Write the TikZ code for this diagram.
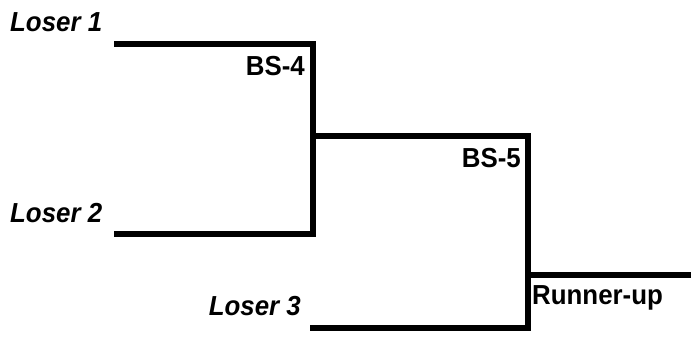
\documentclass[tikz,border=0pt]{standalone}
\usepackage{fontspec}
\newfontfamily\lab{Liberation Sans}[FakeStretch=0.94]
\begin{document}
\begin{tikzpicture}[x=1pt,y=1pt,
  wire/.style={line width=5.5pt,line join=miter,line cap=rect},
  lbl/.style={font=\lab\bfseries\fontsize{27.5}{30}\selectfont,inner sep=0pt},
  ilbl/.style={font=\lab\bfseries\itshape\fontsize{27.5}{30}\selectfont,inner sep=0pt}]
\useasboundingbox (0,0) rectangle (691,360);
% coordinates (y up = 360 - y_image)
\coordinate (l1) at (117,316);
\coordinate (l2) at (117,126);
\coordinate (j4) at (313,224);
\coordinate (j5top) at (528,224);
\coordinate (l3) at (313,32);
\coordinate (j5) at (528,85);
\coordinate (ru) at (691,85);
% labels
\node[ilbl,anchor=west] (t1) at (10,338) {Loser 1};
\node[ilbl,anchor=west] (t2) at (10,147) {Loser 2};
\node[ilbl,anchor=east] (t3) at (301,54) {Loser 3};
\node[lbl,anchor=east] (b4) at (305,294) {BS-4};
\node[lbl,anchor=east] (b5) at (521,202) {BS-5};
\node[lbl,anchor=west] (rn) at (532,62) {Runner-up};
% bracket lines
\draw[wire] (l1) -| (l2 -| j4) -- (l2);
\draw[wire] (j4) -- (j5top);
\draw[wire] (j5top) -- (j5top |- l3) -- (l3);
\draw[wire] (j5) -- (ru);
\end{tikzpicture}
\end{document}
